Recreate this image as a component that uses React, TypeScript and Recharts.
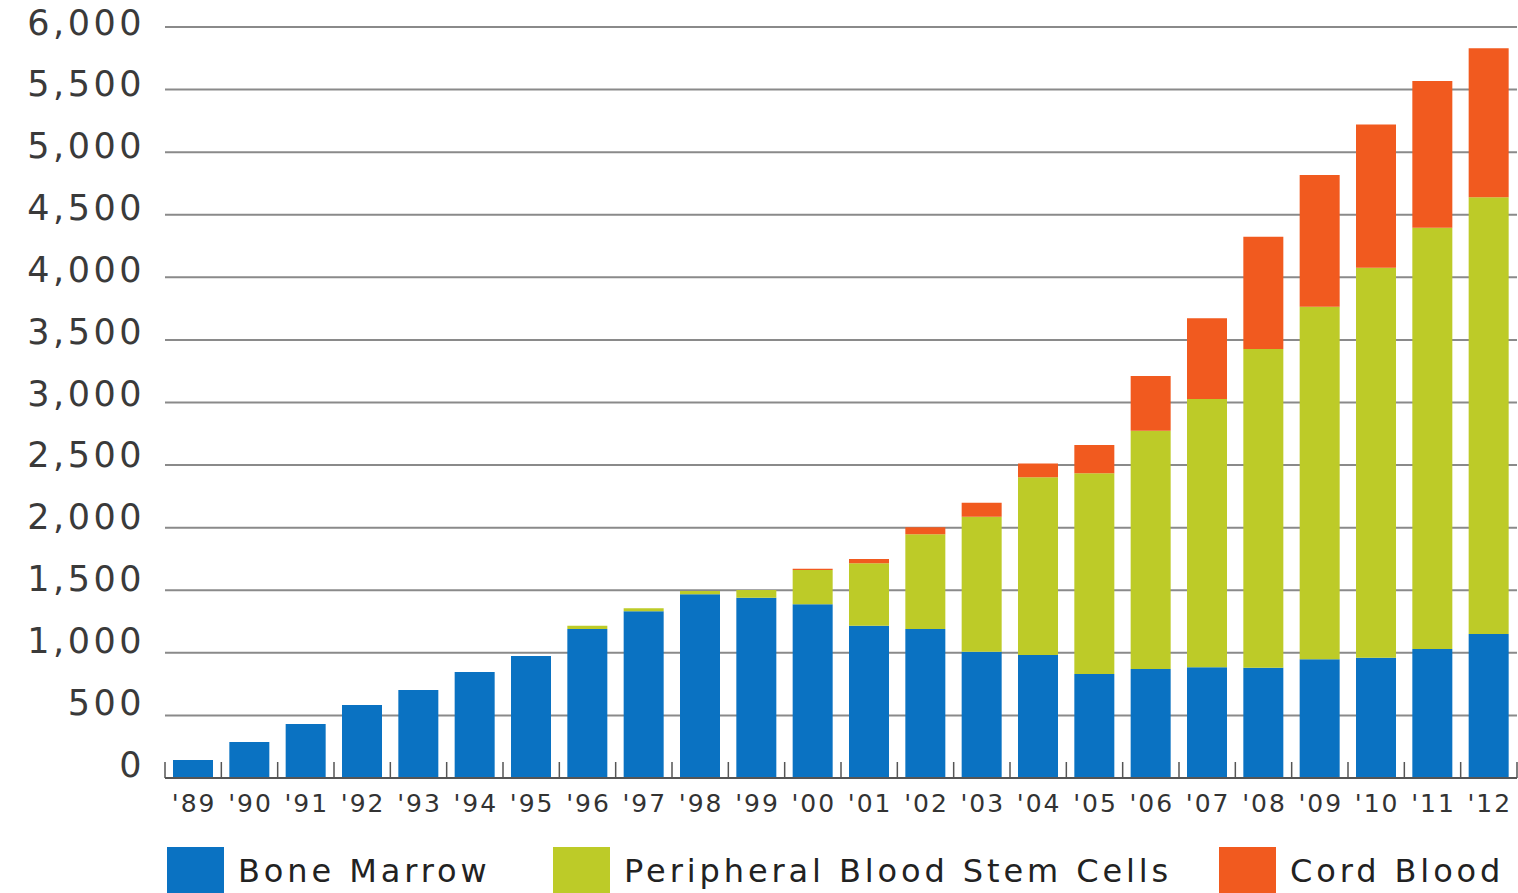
import React from 'react'
import { BarChart, Bar, XAxis, YAxis, CartesianGrid, Legend } from 'recharts'

const years = ["'89", "'90", "'91", "'92", "'93", "'94", "'95", "'96", "'97", "'98", "'99", "'00",
  "'01", "'02", "'03", "'04", "'05", "'06", "'07", "'08", "'09", "'10", "'11", "'12"]
const boneMarrow = [144, 288, 431, 583, 703, 847, 975, 1190, 1332, 1468, 1440, 1388,
  1217, 1190, 1009, 983, 831, 871, 884, 881, 948, 961, 1031, 1150]
const pbsc = [0, 0, 0, 0, 0, 0, 0, 27, 24, 26, 62, 274,
  498, 757, 1079, 1419, 1603, 1904, 2144, 2546, 2817, 3116, 3365, 3489]
const cordBlood = [0, 0, 0, 0, 0, 0, 0, 0, 0, 0, 0, 10,
  35, 56, 111, 111, 226, 437, 645, 898, 1052, 1145, 1172, 1191]
const yTicks = [0, 500, 1000, 1500, 2000, 2500, 3000, 3500, 4000, 4500, 5000, 5500, 6000]

const data = years.map((year, i) => ({
  year,
  bm: boneMarrow[i],
  pbsc: pbsc[i],
  cb: cordBlood[i],
}))

const W = 1518
const H = 893
const M = { top: 27, right: 1, bottom: 0, left: 0 }
const Y_W = 165
const X_H = 50
const LEG_H = 65
const slot = (W - M.left - M.right - Y_W) / years.length

const BLUE = '#0a72c2'
const GREEN = '#bdcb28'
const ORANGE = '#f15a1f'
const FONT = '"DejaVu Sans", sans-serif'

function XTick(props: any) {
  const { x, y, payload, index } = props
  return (
    <g>
      <line x1={x - slot / 2} x2={x - slot / 2} y1={y - 16} y2={y} stroke="#555" strokeWidth={1.5} />
      {index === years.length - 1 && (
        <line x1={x + slot / 2} x2={x + slot / 2} y1={y - 16} y2={y} stroke="#555" strokeWidth={1.5} />
      )}
      <text x={x + 1} y={y + 34} textAnchor="middle" fontSize={25} letterSpacing={2}
        fill="#333" fontFamily={FONT}>{payload.value}</text>
    </g>
  )
}

// labels sit a little above their gridlines, more so towards the bottom
function YTick(props: any) {
  const { x, y, payload } = props
  const dy = -1.5 + 9 * (payload.value / 6000)
  return (
    <text x={x - 20} y={y + dy} textAnchor="end" fontSize={35} letterSpacing={3.5}
      fill="#3a3a3a" fontFamily={FONT}>{payload.value.toLocaleString('en-US')}</text>
  )
}

const legendItems = [
  { label: 'Bone Marrow', color: BLUE, left: 167 },
  { label: 'Peripheral Blood Stem Cells', color: GREEN, left: 553 },
  { label: 'Cord Blood', color: ORANGE, left: 1219 },
]

function LegendContent() {
  return (
    <div style={{ position: 'relative', height: LEG_H, width: W, fontFamily: FONT }}>
      {legendItems.map((it) => (
        <div key={it.label} style={{ position: 'absolute', left: it.left, top: 19, display: 'flex', alignItems: 'center' }}>
          <div style={{ width: 57, height: 48, background: it.color }} />
          <span style={{ marginLeft: 14, fontSize: 32, letterSpacing: 3.9, color: '#222', whiteSpace: 'nowrap', lineHeight: '48px' }}>
            {it.label}
          </span>
        </div>
      ))}
    </div>
  )
}

export default function App() {
  return (
    <div style={{ position: 'absolute', left: 0, top: 0, width: W, height: H, background: '#fff', overflow: 'hidden' }}>
      <BarChart width={W} height={H} data={data} margin={M} barSize={40}>
        <CartesianGrid vertical={false} stroke="#8a8a8a" strokeWidth={2} />
        <XAxis dataKey="year" height={X_H} tickSize={0} tickMargin={0} tickLine={false}
          axisLine={{ stroke: '#555', strokeWidth: 2 }} tick={<XTick />} interval={0} />
        <YAxis width={Y_W} domain={[0, 6000]} ticks={yTicks} tickSize={0} tickMargin={0}
          tickLine={false} axisLine={false} tick={<YTick />} interval={0} />
        <Legend verticalAlign="bottom" height={LEG_H} content={<LegendContent />}
          wrapperStyle={{ left: 0, width: W }} />
        <Bar dataKey="bm" stackId="a" fill={BLUE} name="Bone Marrow" isAnimationActive={false} />
        <Bar dataKey="pbsc" stackId="a" fill={GREEN} name="Peripheral Blood Stem Cells" isAnimationActive={false} />
        <Bar dataKey="cb" stackId="a" fill={ORANGE} name="Cord Blood" isAnimationActive={false} />
      </BarChart>
    </div>
  )
}
